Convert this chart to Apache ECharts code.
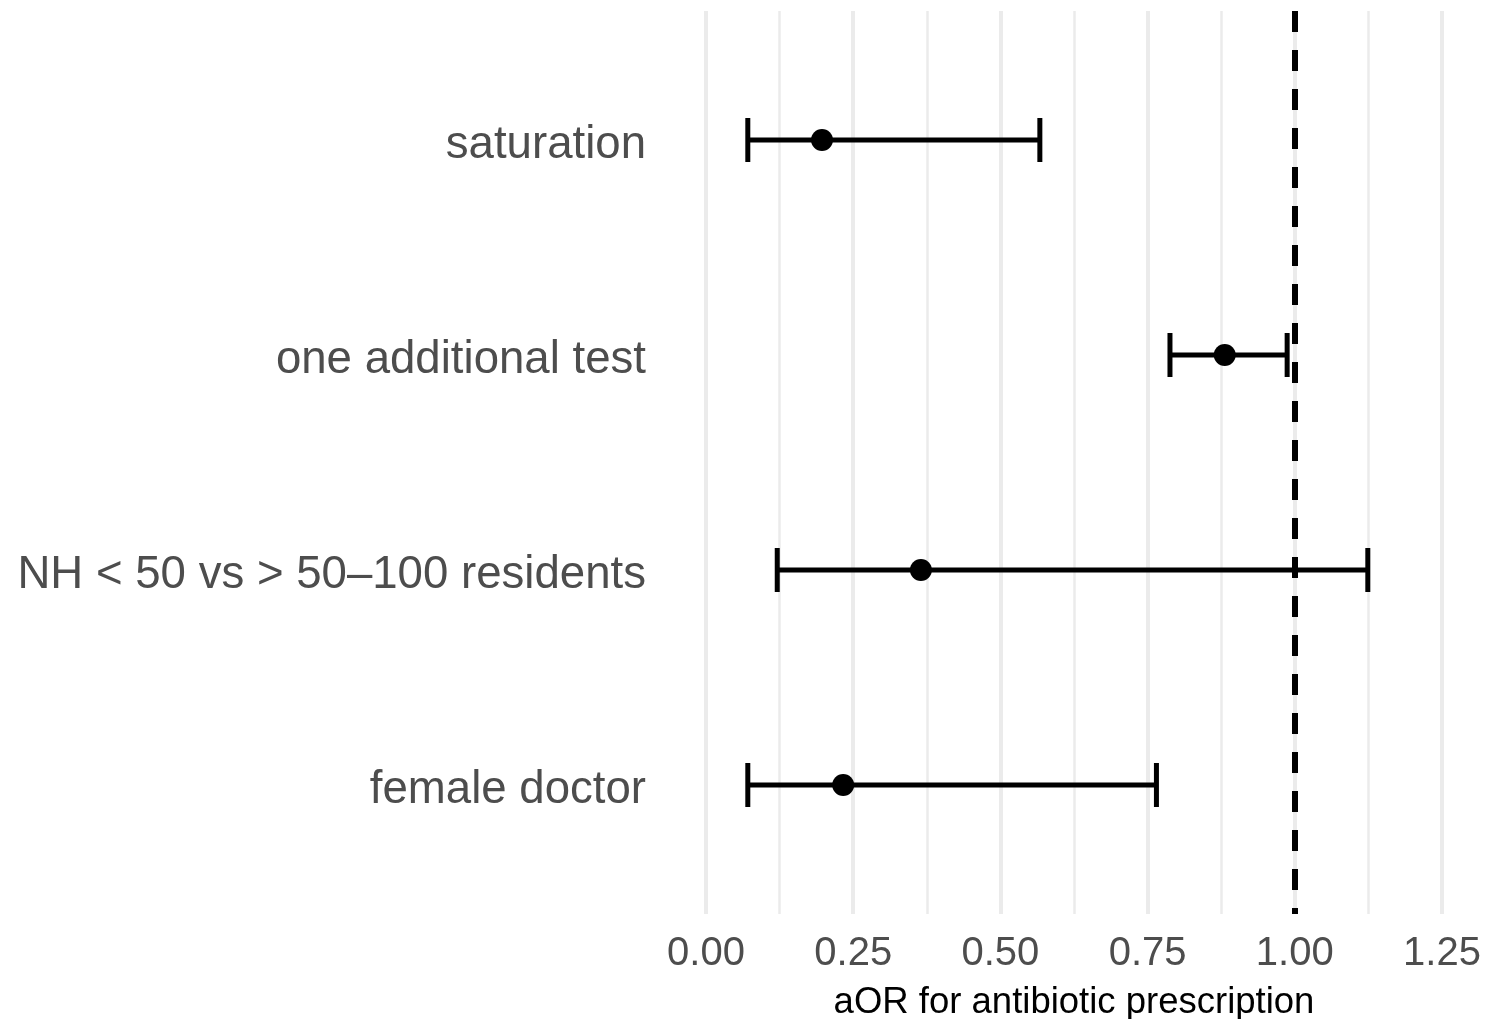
<!DOCTYPE html>
<html>
<head>
<meta charset="utf-8">
<script src="https://cdn.jsdelivr.net/npm/echarts@6/dist/echarts.min.js"></script>
<style>
html,body{margin:0;padding:0;background:#fff;}
#chart{width:1491px;height:1019px;}
</style>
</head>
<body>
<div id="chart"></div>
<script>
const categories = ['saturation', 'one additional test', 'NH < 50 vs > 50\u2013100 residents', 'female doctor'];
const estimate = [0.197, 0.881, 0.365, 0.233];
const lower = [0.071, 0.788, 0.121, 0.071];
const upper = [0.567, 0.987, 1.124, 0.765];
const xTicks = [0, 0.25, 0.5, 0.75, 1.0, 1.25];
const refLine = 1.0;

const FONT = '"Liberation Sans", Arial, sans-serif';
const chart = echarts.init(document.getElementById('chart'), null, {renderer: 'canvas'});

const barData = categories.map((c, i) => [lower[i], upper[i], i + 1]);
const pointData = categories.map((c, i) => [estimate[i], i + 1]);

chart.setOption({
  backgroundColor: '#ffffff',
  animation: false,
  grid: {left: 706, right: 49, top: 11, bottom: 105, containLabel: false, outerBoundsMode: 'none'},
  xAxis: {
    type: 'value',
    min: 0, max: 1.25, interval: 0.25,
    axisLine: {show: false},
    axisTick: {show: false},
    axisLabel: {
      color: '#4d4d4d', fontSize: 40, fontFamily: FONT, margin: 20,
      formatter: v => v.toFixed(2),
      customValues: xTicks
    },
    splitLine: {show: true, lineStyle: {color: '#ebebeb', width: 4}},
    minorTick: {show: false, splitNumber: 2},
    minorSplitLine: {show: true, lineStyle: {color: '#ebebeb', width: 2.5}},
    name: 'aOR for antibiotic prescription',
    nameLocation: 'middle',
    nameGap: 70,
    nameTextStyle: {color: '#000', fontSize: 36.5, fontFamily: FONT}
  },
  yAxis: {
    type: 'value',
    min: 0.4, max: 4.6,
    inverse: true,
    axisLine: {show: false},
    axisTick: {show: false},
    splitLine: {show: false},
    axisLabel: {
      color: '#4d4d4d', fontSize: 45.6, fontFamily: FONT, margin: 60,
      customValues: [1, 2, 3, 4],
      formatter: v => '{c|' + (categories[Math.round(v) - 1] || '') + '}',
      rich: {
        c: {color: '#4d4d4d', fontSize: 45.6, fontFamily: FONT, padding: [10, 0, 0, 0]}
      }
    }
  },
  series: [
    {
      type: 'custom',
      data: barData,
      encode: {x: [0, 1], y: 2},
      z: 3,
      renderItem: function (params, api) {
        const lo = api.coord([api.value(0), api.value(2)]);
        const hi = api.coord([api.value(1), api.value(2)]);
        const h = 22;
        const style = {stroke: '#000', lineWidth: 5, fill: null};
        return {
          type: 'group',
          children: [
            {type: 'line', shape: {x1: lo[0], y1: lo[1], x2: hi[0], y2: hi[1]}, style: style},
            {type: 'line', shape: {x1: lo[0], y1: lo[1] - h, x2: lo[0], y2: lo[1] + h}, style: style},
            {type: 'line', shape: {x1: hi[0], y1: hi[1] - h, x2: hi[0], y2: hi[1] + h}, style: style}
          ]
        };
      }
    },
    {
      type: 'scatter',
      data: pointData,
      symbol: 'circle',
      symbolSize: 22,
      itemStyle: {color: '#000', opacity: 1},
      z: 4,
      markLine: {
        silent: true,
        symbol: ['none', 'none'],
        label: {show: false},
        lineStyle: {color: '#000', width: 6, type: [21, 18], opacity: 1},
        data: [{xAxis: refLine}],
        z: 5
      }
    }
  ]
});
</script>
</body>
</html>
